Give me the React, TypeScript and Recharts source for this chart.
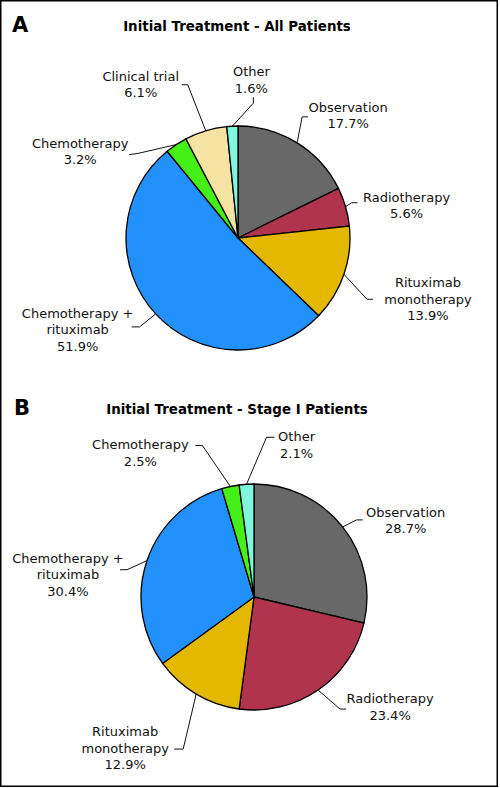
import React from 'react';
import { PieChart, Pie, Cell } from 'recharts';

// ---- Data ----
const categoriesA = ['Observation', 'Radiotherapy', 'Rituximab monotherapy', 'Chemotherapy + rituximab', 'Chemotherapy', 'Clinical trial', 'Other'];
const valuesA = [17.7, 5.6, 13.9, 51.9, 3.2, 6.1, 1.6];

const categoriesB = ['Observation', 'Radiotherapy', 'Rituximab monotherapy', 'Chemotherapy + rituximab', 'Chemotherapy', 'Other'];
const valuesB = [28.7, 23.4, 12.9, 30.4, 2.5, 2.1];

const titleA = 'Initial Treatment - All Patients';
const titleB = 'Initial Treatment - Stage I Patients';

// label lines (text split)
const labelLines: Record<string, string[]> = {
  'Observation': ['Observation'],
  'Radiotherapy': ['Radiotherapy'],
  'Rituximab monotherapy': ['Rituximab', 'monotherapy'],
  'Chemotherapy + rituximab': ['Chemotherapy +', 'rituximab'],
  'Chemotherapy': ['Chemotherapy'],
  'Clinical trial': ['Clinical trial'],
  'Other': ['Other'],
};

// ---- Styles ----
const colors: Record<string, string> = {
  'Observation': '#686868',
  'Radiotherapy': '#b1344f',
  'Rituximab monotherapy': '#e4b800',
  'Chemotherapy + rituximab': '#2291fb',
  'Chemotherapy': '#44f018',
  'Clinical trial': '#f4e3a3',
  'Other': '#80f6de',
};

type Lay = { elbow: [number, number]; end: [number, number]; text: [number, number] };
// leader-line / label offsets relative to the slice's outer edge point
const layoutA: Record<string, Lay> = {
  'Observation': { elbow: [5, -26], end: [11, -26], text: [51, -32] },
  'Radiotherapy': { elbow: [6, -4], end: [12, -4], text: [61, -6] },
  'Rituximab monotherapy': { elbow: [23, 25], end: [29, 25], text: [84, 12] },
  'Chemotherapy + rituximab': { elbow: [-16, 13], end: [-24, 13], text: [-78, 3] },
  'Chemotherapy': { elbow: [-39, 9], end: [-47, 10], text: [-96, 2] },
  'Clinical trial': { elbow: [-18, -46], end: [-24, -46], text: [-65, -51] },
  'Other': { elbow: [21, -23], end: [21, -29], text: [19, -51] },
};
const layoutB: Record<string, Lay> = {
  'Observation': { elbow: [14, -7], end: [20, -7], text: [63, -11] },
  'Radiotherapy': { elbow: [22, 19], end: [28, 19], text: [72, 12] },
  'Rituximab monotherapy': { elbow: [-13, 55], end: [-22, 55], text: [-71, 41] },
  'Chemotherapy + rituximab': { elbow: [-20, 9], end: [-27, 9], text: [-79, 1] },
  'Chemotherapy': { elbow: [-28, -41], end: [-35, -41], text: [-90, -38] },
  'Other': { elbow: [20, -47], end: [28, -47], text: [50, -44] },
};

const FONT = '"DejaVu Sans", sans-serif';
const RAD = Math.PI / 180;

const dataA = categoriesA.map((name, i) => ({ name, value: valuesA[i] }));
const dataB = categoriesB.map((name, i) => ({ name, value: valuesB[i] }));

const makeLabel = (layout: Record<string, Lay>) => (props: any) => {
  const { cx, cy, midAngle, outerRadius, name, value } = props;
  const ex = cx + outerRadius * Math.cos(-midAngle * RAD);
  const ey = cy + outerRadius * Math.sin(-midAngle * RAD);
  const l = layout[name];
  if (!l) return null;
  const lines = [...(labelLines[name] || [name]), `${Number(value).toFixed(1)}%`];
  const tx = ex + l.text[0];
  const ty = ey + l.text[1] + 1;
  return (
    <g>
      <polyline
        points={`${ex},${ey} ${ex + l.elbow[0]},${ey + l.elbow[1]} ${ex + l.end[0]},${ey + l.end[1]}`}
        fill="none"
        stroke="#111"
        strokeWidth={1}
      />
      <text x={tx} y={ty} textAnchor="middle" fontFamily={FONT} fontSize={13} fill="#111">
        {lines.map((t, i) => (
          <tspan key={i} x={tx} y={ty + i * 16.5}>{t}</tspan>
        ))}
      </text>
    </g>
  );
};

export default function App() {
  return (
    <div style={{ position: 'absolute', left: 0, top: 0, width: 500, height: 788, background: '#fff' }}>
      <PieChart
        width={500}
        height={788}
        margin={{ top: 0, right: 0, bottom: 0, left: 0 }}
        style={{ position: 'absolute', left: 0, top: 0 }}
      >
        <Pie
          data={dataA}
          dataKey="value"
          nameKey="name"
          cx={238}
          cy={238}
          outerRadius={112}
          startAngle={90}
          endAngle={-270}
          stroke="#000"
          strokeWidth={1.3}
          isAnimationActive={false}
          label={makeLabel(layoutA)}
          labelLine={false}
        >
          {dataA.map((d) => (
            <Cell key={d.name} fill={colors[d.name]} />
          ))}
        </Pie>
        <Pie
          data={dataB}
          dataKey="value"
          nameKey="name"
          cx={254}
          cy={597}
          outerRadius={113}
          startAngle={90}
          endAngle={-270}
          stroke="#000"
          strokeWidth={1.3}
          isAnimationActive={false}
          label={makeLabel(layoutB)}
          labelLine={false}
        >
          {dataB.map((d) => (
            <Cell key={d.name} fill={colors[d.name]} />
          ))}
        </Pie>
      </PieChart>
      <svg width={500} height={788} style={{ position: 'absolute', left: 0, top: 0, pointerEvents: 'none' }}>
        <rect x={0.75} y={0.75} width={496.5} height={785.5} fill="none" stroke="#000" strokeWidth={1.5} />
        <text x={12} y={32} fontFamily={FONT} fontWeight="bold" fontSize={21} fill="#000">A</text>
        <text x={237} y={31} textAnchor="middle" fontFamily={FONT} fontWeight="bold" fontSize={13.4} fill="#000">{titleA}</text>
        <text x={14} y={415} fontFamily={FONT} fontWeight="bold" fontSize={21} fill="#000">B</text>
        <text x={237} y={414} textAnchor="middle" fontFamily={FONT} fontWeight="bold" fontSize={13.4} fill="#000">{titleB}</text>
      </svg>
    </div>
  );
}
